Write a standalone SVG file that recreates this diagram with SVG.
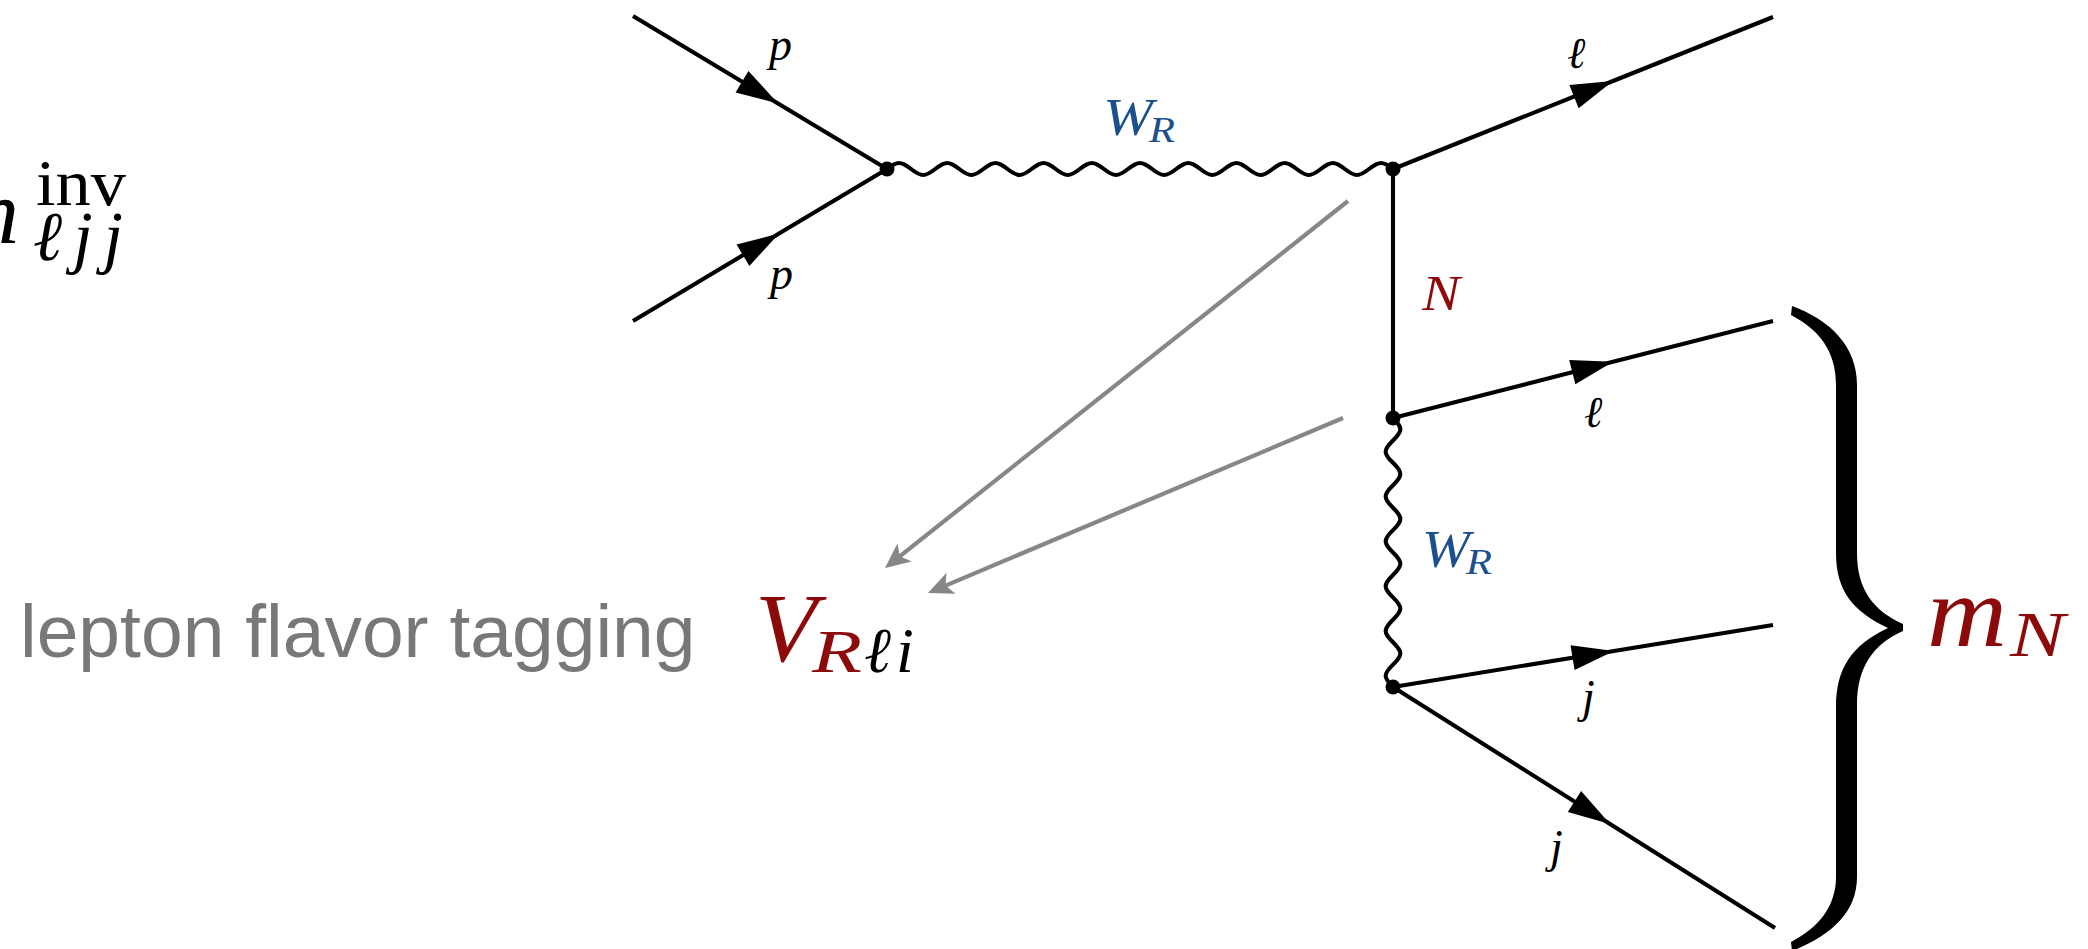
<svg xmlns="http://www.w3.org/2000/svg" width="2088" height="949" viewBox="0 0 2088 949">
<style>
.f{fill:none;stroke:#000;stroke-width:4.1;stroke-linecap:butt}
.g{fill:none;stroke:#878787;stroke-width:4.2}
.m{font-family:"Liberation Serif","Times New Roman",serif;font-style:italic}
.r{font-family:"Liberation Serif","Times New Roman",serif}
.blue{fill:#1b4f8e}
.red{fill:#8c0a0a}
.blk{fill:#000}
</style>
<defs>
<marker id="fa" markerUnits="userSpaceOnUse" orient="auto" markerWidth="60" markerHeight="40" viewBox="-50 -20 60 40" refX="0" refY="0" overflow="visible">
<path d="M0 0 L-42 -12.5 L-42 12.5 Z" fill="#000"/>
</marker>
<marker id="ga" markerUnits="userSpaceOnUse" orient="auto" markerWidth="40" markerHeight="40" viewBox="-20 -20 40 40" refX="0" refY="0" overflow="visible">
<path d="M10 0 L-15 -11.5 L-9 0 L-15 11.5 Z" fill="#878787"/>
</marker>
</defs>
<rect width="2088" height="949" fill="#fff"/>
<g id="connectors">
<path class="f" marker-mid="url(#fa)" d="M633 16 L778 103.4 L887 169"/>
<path class="f" marker-mid="url(#fa)" d="M633 321 L779 233.6 L887 169"/>
<path class="f" d="M887 169 c 10.23 -8 13.87 -8 24.1 0 s 13.87 8 24.1 0 s 13.87 -8 24.1 0 s 13.87 8 24.1 0 s 13.87 -8 24.1 0 s 13.87 8 24.1 0 s 13.87 -8 24.1 0 s 13.87 8 24.1 0 s 13.87 -8 24.1 0 s 13.87 8 24.1 0 s 13.87 -8 24.1 0 s 13.87 8 24.1 0 s 13.87 -8 24.1 0 s 13.87 8 24.1 0 s 13.87 -8 24.1 0 s 13.87 8 24.1 0 s 13.87 -8 24.1 0 s 13.87 8 24.1 0 s 13.87 -8 24.1 0 s 13.87 8 24.1 0 s 13.87 -8 24.1 0"/>
<path class="f" marker-mid="url(#fa)" d="M1393 169 L1613 81 L1773 17"/>
<path class="f" d="M1393 169 L1393 418"/>
<path class="f" marker-mid="url(#fa)" d="M1393 418 L1613 361.8 L1773 321"/>
<path class="f" d="M1393 418 c 9.8 9.51 9.8 12.91 0 22.42 s -9.8 12.91 0 22.42 s 9.8 12.91 0 22.42 s -9.8 12.91 0 22.42 s 9.8 12.91 0 22.42 s -9.8 12.91 0 22.42 s 9.8 12.91 0 22.42 s -9.8 12.91 0 22.42 s 9.8 12.91 0 22.42 s -9.8 12.91 0 22.42 s 9.8 12.91 0 22.42 s -9.8 12.91 0 22.42"/>
<path class="f" marker-mid="url(#fa)" d="M1393 687 L1614 650.9 L1773 625"/>
<path class="f" marker-mid="url(#fa)" d="M1393 687 L1610 823.9 L1775 928"/>
<path class="g" marker-end="url(#ga)" d="M1348 201 L892.8 561.8"/>
<path class="g" marker-end="url(#ga)" d="M1343 418 L937.2 589.1"/>
</g>
<g id="vertex-1"><circle cx="887" cy="169" r="7.5"/></g>
<g id="vertex-2"><circle cx="1393" cy="169" r="7.5"/></g>
<g id="vertex-3"><circle cx="1393" cy="418" r="7.5"/></g>
<g id="vertex-4"><circle cx="1393" cy="687" r="7.5"/></g>
<g id="label-p-top"><text class="m blk" x="769" y="60" font-size="46">p</text></g>
<g id="label-p-bottom"><text class="m blk" x="770" y="289" font-size="46">p</text></g>
<g id="label-WR-top"><text class="m blue" x="1103" y="135" font-size="52" textLength="50" lengthAdjust="spacingAndGlyphs">W</text><text class="m blue" x="1149" y="142" font-size="36" textLength="26" lengthAdjust="spacingAndGlyphs">R</text></g>
<g id="label-l-top"><text class="m blk" x="1567" y="68" font-size="44">ℓ</text></g>
<g id="label-N"><text class="m red" x="1422" y="310" font-size="50" textLength="38" lengthAdjust="spacingAndGlyphs">N</text></g>
<g id="label-l-mid"><text class="m blk" x="1584" y="427" font-size="44">ℓ</text></g>
<g id="label-WR-vert"><text class="m blue" x="1422" y="567" font-size="52" textLength="48" lengthAdjust="spacingAndGlyphs">W</text><text class="m blue" x="1466" y="574" font-size="36" textLength="26" lengthAdjust="spacingAndGlyphs">R</text></g>
<g id="label-j-mid"><text class="m blk" x="1582" y="712" font-size="46">j</text></g>
<g id="label-j-bottom"><text class="m blk" x="1550" y="862" font-size="46">j</text></g>
<g id="brace"><path fill="#000" d="M1792 306 C1830 320 1857 346 1857 385 L1857 553 C1857 590 1874 611 1903 624 L1903 631 C1874 644 1857 666 1857 705 L1857 877 C1857 913 1830 936 1792 951 L1791 942 C1820 927 1836 905 1836 877 L1836 707 C1836 668 1852 645 1888 628 C1852 611 1836 590 1836 553 L1836 385 C1836 352 1820 330 1791 315 Z"/></g>
<g id="label-mN"><text class="m red" x="1927" y="646" font-size="102" textLength="80" lengthAdjust="spacingAndGlyphs">m</text><text class="m red" x="2010" y="656" font-size="64" textLength="55" lengthAdjust="spacingAndGlyphs">N</text></g>
<g id="label-h"><text class="m blk" x="-27" y="243" font-size="92">h</text><text class="r blk" x="36" y="205" font-size="66" textLength="90" lengthAdjust="spacingAndGlyphs">inv</text><text class="m blk" x="33" y="260" font-size="70" textLength="90">ℓjj</text></g>
<g id="label-tagging"><text x="20" y="657" font-size="75" fill="#787878" font-family="'Liberation Sans',Arial,sans-serif">lepton flavor tagging</text></g>
<g id="label-V"><text class="m red" x="755" y="661" font-size="98" textLength="62" lengthAdjust="spacingAndGlyphs">V</text><text class="m red" x="812" y="672" font-size="62" textLength="50" lengthAdjust="spacingAndGlyphs">R</text><text class="m blk" x="864" y="672" font-size="64">ℓ</text><text class="m blk" x="896" y="672" font-size="64">i</text></g>
</svg>
